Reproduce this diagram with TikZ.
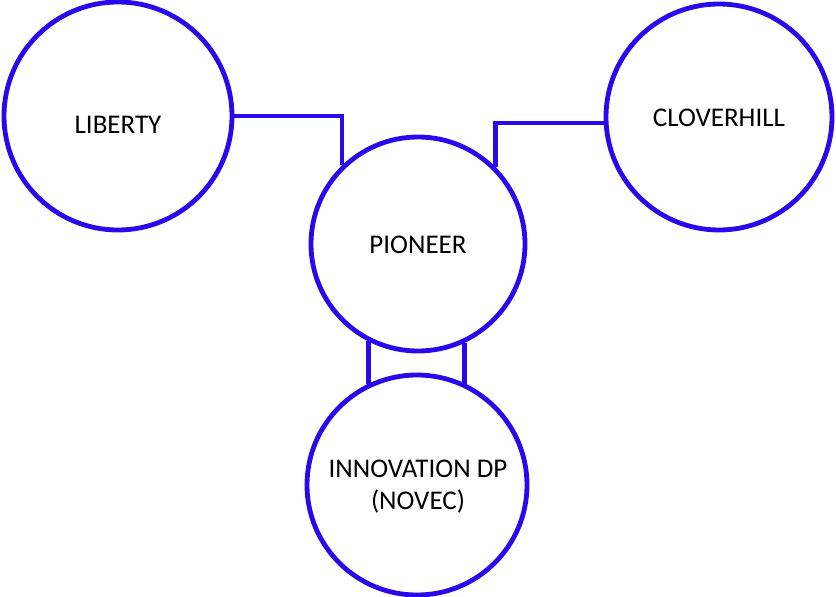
\documentclass[tikz,border=0pt]{standalone}
\usepackage{fontspec}
\setmainfont{Carlito}
\definecolor{ringblue}{RGB}{42,8,236}
\begin{document}
\begin{tikzpicture}[x=1pt,y=-1pt,
  ring/.style={circle,draw=ringblue,line width=4.8pt,inner sep=0pt},
  link/.style={draw=ringblue,line width=4.8pt},
  lbl/.style={font=\fontsize{27}{32}\selectfont,align=center,inner sep=0pt}]
\useasboundingbox (0,0) rectangle (836,597);
\node[ring,minimum size=228pt] (lib) at (118,116) {};
\node[ring,minimum size=226pt] (clo) at (719,117) {};
\node[ring,minimum size=214pt] (pio) at (418,244) {};
\node[ring,minimum size=220pt] (inn) at (417,485) {};
\node[lbl] (tlib) at (118,125) {LIBERTY};
\node[lbl] (tclo) at (719,118) {CLOVERHILL};
\node[lbl] (tpio) at (418,245) {PIONEER};
\node[lbl] (tinn) at (418,487) {INNOVATION DP\\(NOVEC)};
\draw[link] (lib.east) -| (pio.134.5);
\draw[link] (clo.183.5) -| (pio.45);
\draw[link] (pio.243) -- (pio.243 |- inn.116);
\draw[link] (pio.295.2) -- (pio.295.2 |- inn.64.5);
\end{tikzpicture}
\end{document}
